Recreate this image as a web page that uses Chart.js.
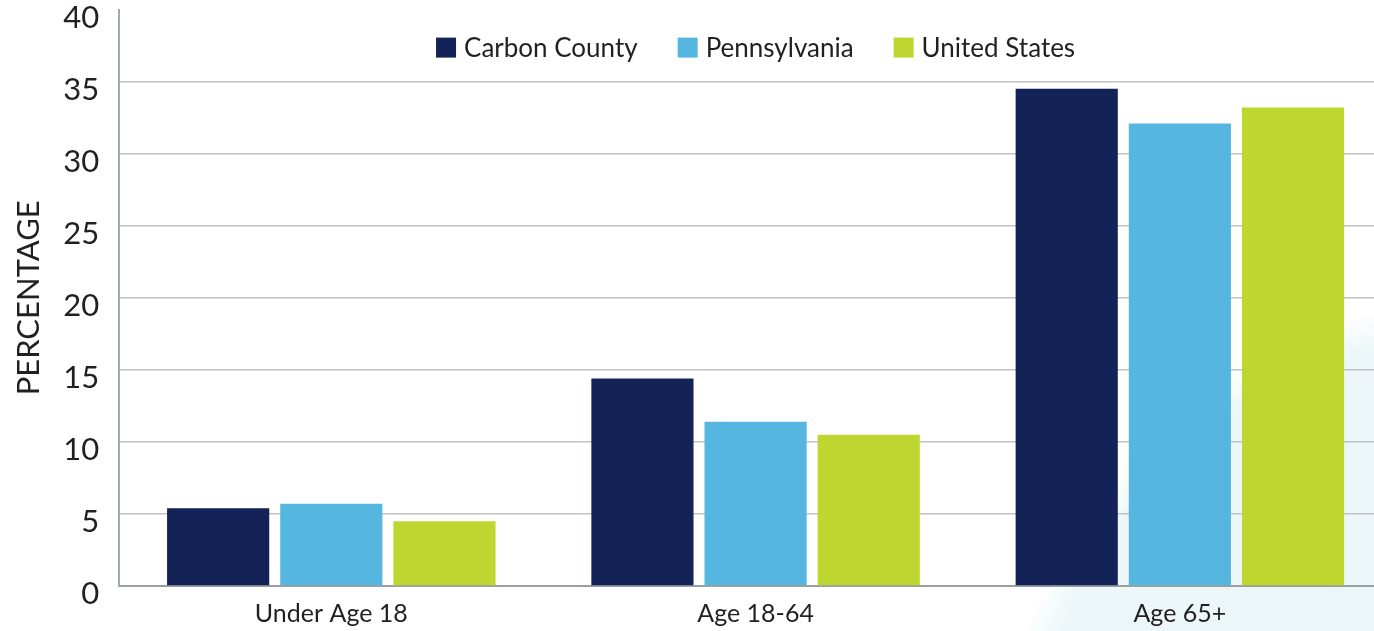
<!DOCTYPE html>
<html>
<head>
<meta charset="utf-8">
<script src="https://cdn.jsdelivr.net/npm/chart.js@4/dist/chart.umd.min.js"></script>
<style>
  html, body { margin: 0; padding: 0; background: #fff; overflow: hidden; }
  #wrap { position: relative; width: 1392px; height: 663px; margin-top: -29px; }
</style>
</head>
<body>
<div id="wrap"><canvas id="chart"></canvas></div>
<script>
const categories = ['Under Age 18', 'Age 18-64', 'Age 65+'];
const seriesNames = ['Carbon County', 'Pennsylvania', 'United States'];
const carbonCounty = [5.4, 14.4, 34.5];
const pennsylvania = [5.7, 11.4, 32.1];
const unitedStates = [4.5, 10.5, 33.2];
const seriesColors = ['#132257', '#55B7E0', '#BED730'];

const textColor = '#231F20';
const font = 'Lato, "Noto Sans", sans-serif';

// soft teal wash in the lower right corner
const cornerWash = {
  id: 'cornerWash',
  beforeDraw(chart) {
    const ctx = chart.ctx;
    const cx = 1500, cy = 829, r = 505;
    const g = ctx.createRadialGradient(cx, cy, 0, cx, cy, r);
    g.addColorStop(0, '#EAF6F8');
    g.addColorStop(0.93, '#EDF7F9');
    g.addColorStop(1, 'rgba(237,247,249,0)');
    ctx.save();
    ctx.fillStyle = g;
    ctx.fillRect(cx - r, cy - r, r * 2, r * 2);
    ctx.restore();
  }
};

// legend drawn in a row inside the top of the plot
const insideLegend = {
  id: 'insideLegend',
  afterDatasetsDraw(chart) {
    const ctx = chart.ctx;
    const area = chart.chartArea;
    const box = 20, gap = 8, spacing = 40;
    ctx.save();
    ctx.font = '26px ' + font;
    const widths = chart.data.datasets.map(d => ctx.measureText(d.label).width);
    const total = widths.reduce((a, w) => a + box + gap + w, 0) + spacing * (widths.length - 1);
    let x = (area.left + area.right) / 2 - total / 2;
    const cy = area.top + 38;
    ctx.textBaseline = 'middle';
    chart.data.datasets.forEach((d, i) => {
      ctx.fillStyle = d.backgroundColor;
      ctx.fillRect(x, cy - box / 2, box, box);
      ctx.fillStyle = textColor;
      ctx.fillText(d.label, x + box + gap, cy + 1);
      x += box + gap + widths[i] + spacing;
    });
    ctx.restore();
  }
};

new Chart(document.getElementById('chart'), {
  type: 'bar',
  data: {
    labels: categories,
    datasets: [carbonCounty, pennsylvania, unitedStates].map((values, i) => ({
      label: seriesNames[i],
      data: values,
      backgroundColor: seriesColors[i],
      categoryPercentage: 0.8,
      barPercentage: 0.903
    }))
  },
  options: {
    responsive: true,
    maintainAspectRatio: false,
    animation: false,
    layout: { padding: { top: 0, right: 0, bottom: 0, left: 10 } },
    plugins: {
      legend: { display: false },
      tooltip: { enabled: false }
    },
    scales: {
      x: {
        grid: { display: false },
        border: { color: '#9A9E9E', width: 2 },
        ticks: { color: textColor, padding: 5, font: { family: font, size: 25 } }
      },
      y: {
        min: 0,
        max: 40,
        grid: {
          color: c => (c.tick && c.tick.value === 40 ? 'rgba(0,0,0,0)' : '#BFC3C3'),
          lineWidth: 1.5,
          drawTicks: false
        },
        border: { color: '#A3A8A8', width: 2 },
        ticks: {
          stepSize: 5,
          color: textColor,
          padding: 20,
          labelOffset: 8,
          font: { family: font, size: 31 }
        },
        title: {
          display: true,
          text: 'PERCENTAGE',
          color: textColor,
          padding: { top: 0, bottom: -4 },
          font: { family: font, size: 31 }
        }
      }
    }
  },
  plugins: [cornerWash, insideLegend]
});
</script>
</body>
</html>
